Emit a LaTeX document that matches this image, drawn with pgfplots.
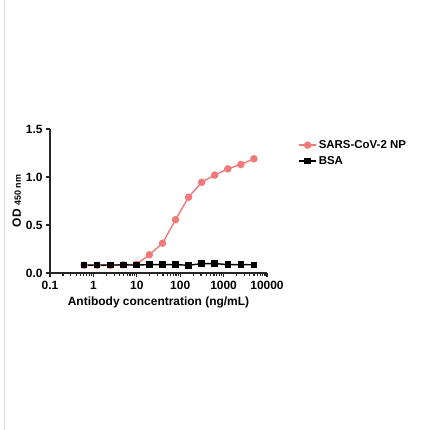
\documentclass[border=0pt]{standalone}
\usepackage{pgfplots}
\pgfplotsset{compat=1.18}
\usepackage{fontspec}
\setmainfont{Liberation Sans}
\definecolor{npred}{HTML}{F07A78}
\begin{document}
\begin{tikzpicture}
\path[use as bounding box, fill=white] (0,0) rectangle (427bp,430bp);
\draw[black!12, line width=1bp] (4bp,0) -- (4bp,430bp);
\begin{axis}[
  at={(50bp,157bp)}, anchor=south west,
  scale only axis, width=217bp, height=144bp,
  xmode=log, xmin=0.1, xmax=10000,
  ymin=0, ymax=1.5,
  axis x line*=bottom, axis y line*=left,
  axis line style={line width=1.6bp, black!85},
  xtick={0.1,1,10,100,1000,10000},
  xticklabels={0.1,1,10,100,1000,10000},
  minor xtick={},
  ytick={0,0.5,1,1.5},
  yticklabels={0.0,0.5,1.0,1.5},
  tick style={line width=1.2bp, black!85},
  tick align=outside, major tick length=4bp,
  /pgf/number format/assume math mode=true,
  ticklabel style={font=\bfseries\fontsize{12}{14}\selectfont},
  xticklabel style={yshift=-1bp},
  xlabel={\bfseries Antibody concentration (ng/mL)},
  ylabel={\bfseries OD {\fontsize{9}{10}\selectfont 450 nm}},
  label style={font=\bfseries\fontsize{12}{14}\selectfont},
  xlabel style={yshift=0bp},
  ylabel style={yshift=-2bp},
  clip=false,
  legend style={draw=none, fill=none, at={(1.13,0.95)}, anchor=north west,
    font=\bfseries\fontsize{11.5}{13}\selectfont, row sep=2.5bp},
  legend cell align=left,
]
\addplot[npred, line width=1.4bp, mark=*, mark size=3bp] coordinates {
(0.61,0.08) (1.22,0.08) (2.44,0.08) (4.88,0.085) (9.77,0.09) (19.5,0.19)
(39.1,0.31) (78.1,0.555) (156,0.79) (312.5,0.945) (625,1.02) (1250,1.085)
(2500,1.13) (5000,1.19)};
\addlegendentry{SARS-CoV-2 NP}
\addplot[black, line width=1.4bp, mark=square*, mark size=2.6bp] coordinates {
(0.61,0.082) (1.22,0.082) (2.44,0.082) (4.88,0.085) (9.77,0.082) (19.5,0.088)
(39.1,0.088) (78.1,0.088) (156,0.08) (312.5,0.098) (625,0.098) (1250,0.088)
(2500,0.088) (5000,0.085)};
\addlegendentry{BSA}
\end{axis}
\end{tikzpicture}
\end{document}
